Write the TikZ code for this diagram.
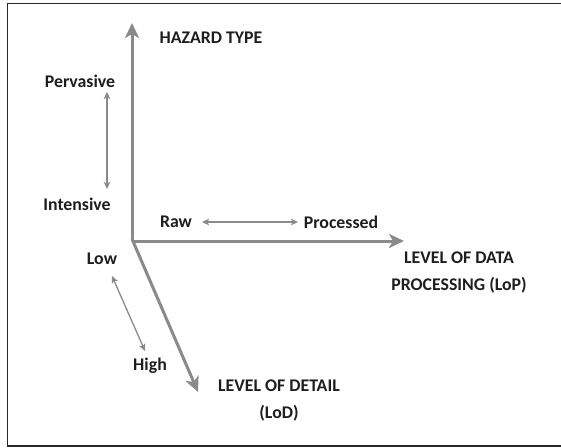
\documentclass[tikz,border=0pt]{standalone}
\usepackage{fontspec}
\setmainfont{Carlito}
\usetikzlibrary{arrows.meta}
\definecolor{axisgray}{HTML}{8A8A8A}
\definecolor{txt}{HTML}{1E1E1E}
\tikzset{
  axisarrow/.style={draw=axisgray, line width=3pt, -{Stealth[length=15pt,width=14pt,inset=4pt]}},
  rangearrow/.style={draw=axisgray, line width=1.3pt, {Stealth[length=7pt,width=6.5pt,inset=1.5pt]}-{Stealth[length=7pt,width=6.5pt,inset=1.5pt]}},
  lbl/.style={text=txt, font=\bfseries\fontsize{17.8}{20}\selectfont, inner sep=0pt},
  frameline/.style={draw=black!85, line width=1.3pt}
}
\begin{document}
\begin{tikzpicture}[x=1pt,y=-1pt]
\useasboundingbox (0,0) rectangle (561,447);
% frame
\coordinate (ftr) at (565,3.5);
\coordinate (ftl) at (7.5,3.5);
\coordinate (fbl) at (7.5,446);
\coordinate (fbr) at (565,446);
\draw[frameline] (ftr) -- (ftl) -- (fbl) -- (fbr);
% axes
\coordinate (o) at (132,241);
\coordinate (od) at (132,239);
\coordinate (ytip) at (132,23);
\coordinate (xtip) at (404,241);
\coordinate (dtip) at (198,392);
\draw[axisarrow] (o) -- (ytip);
\draw[axisarrow] (o) -- (xtip);
\draw[axisarrow] (od) -- (dtip);
% labels
\node[lbl] (haz) at (211,38) {HAZARD TYPE};
\node[lbl] (perv) at (80,81) {Pervasive};
\node[lbl] (inten) at (77,204) {Intensive};
\node[lbl] (raw) at (176,222) {Raw};
\node[lbl] (proc) at (341,222) {Processed};
\node[lbl] (low) at (102,259) {Low};
\node[lbl] (high) at (150,366) {High};
\node[lbl, align=center] (lop) at (459,272.5) {LEVEL OF DATA\\[7pt]PROCESSING (LoP)};
\node[lbl, align=center] (lod) at (279,400.5) {LEVEL OF DETAIL\\[7pt](LoD)};
% range arrows
\coordinate (pa) at (107,92);
\coordinate (pb) at (107,189);
\coordinate (ra) at (202,222);
\coordinate (rb) at (298,222);
\coordinate (la) at (112,276);
\coordinate (lb) at (145,351);
\draw[rangearrow] (pa) -- (pb);
\draw[rangearrow] (ra) -- (rb);
\draw[rangearrow] (la) -- (lb);
\end{tikzpicture}
\end{document}
